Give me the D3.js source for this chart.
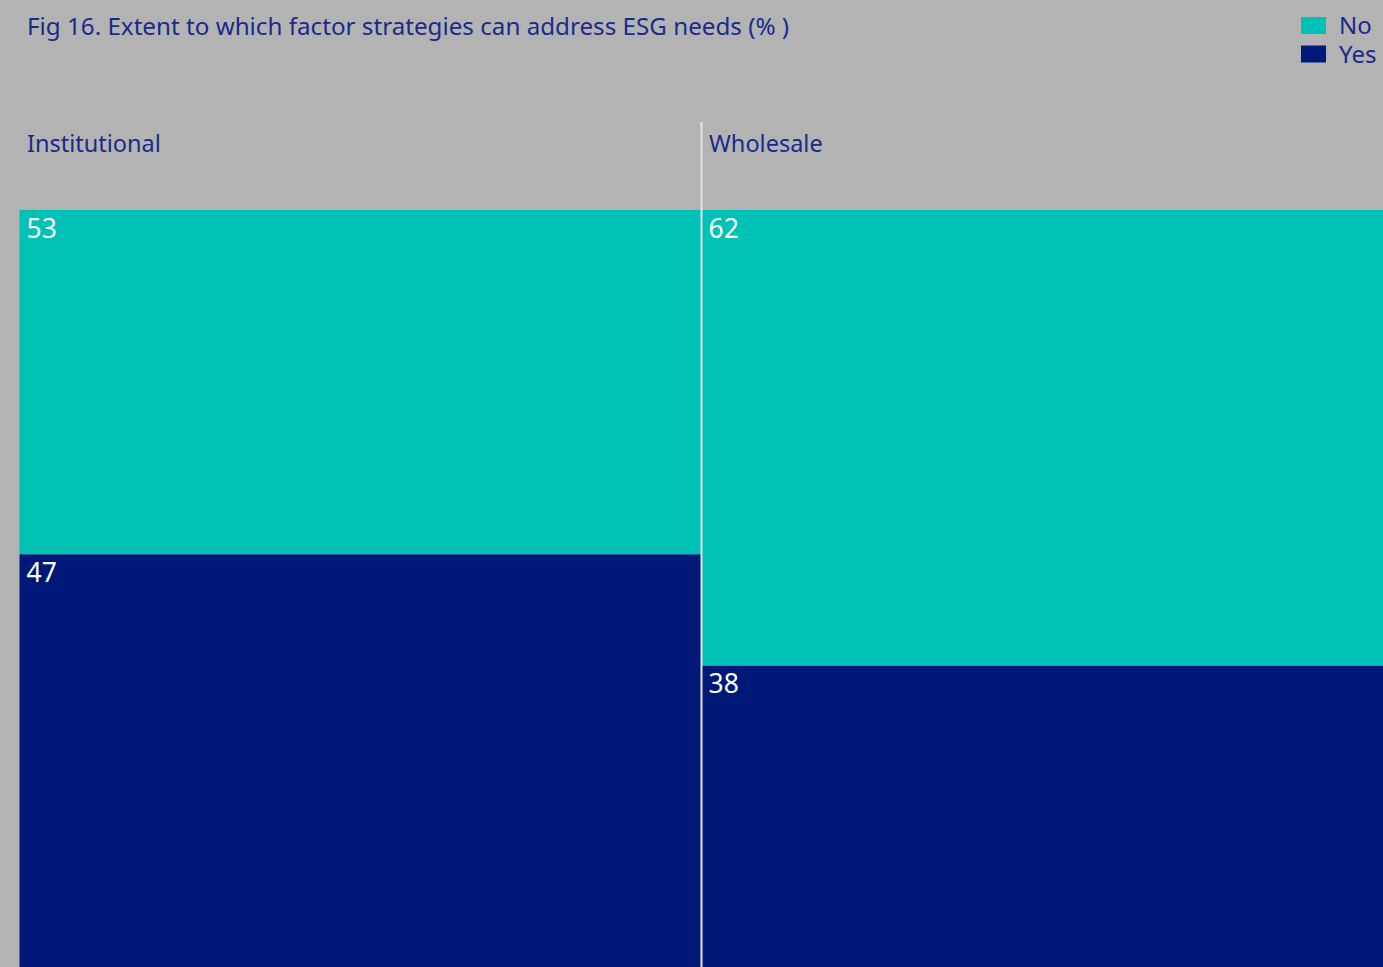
<!DOCTYPE html>
<html>
<head>
<meta charset="utf-8">
<script src="https://cdn.jsdelivr.net/npm/d3@7"></script>
<style>
  html, body { margin: 0; padding: 0; background: #b3b3b3; }
  svg { display: block; }
  .title, .panel, .legend-label { fill: #1a2a8c; font-family: "Noto Sans", sans-serif; }
  .value { fill: #ffffff; font-family: "Noto Sans", sans-serif; }
</style>
</head>
<body>
<svg id="chart"></svg>
<script>
  const width = 1383, height = 967;

  // data
  const panels = ['Institutional', 'Wholesale'];
  const answers = ['No', 'Yes'];
  const noValues = [53, 62];
  const yesValues = [47, 38];
  const titleText = 'Fig 16. Extent to which factor strategies can address ESG needs (% )';

  const colors = { No: '#00c1b6', Yes: '#001978' };

  const svg = d3.select('#chart')
    .attr('width', width)
    .attr('height', height)
    .attr('viewBox', `0 0 ${width} ${height}`);

  svg.append('rect').attr('width', width).attr('height', height).attr('fill', '#b3b3b3');

  const x = d3.scaleBand().domain(panels).range([19.5, 1383.5]).paddingInner(0);

  // share measured down from the top of the bar (picture is cropped at the bottom)
  const y = d3.scalePow().exponent(1.787).domain([0, 100]).range([210, 1281]);

  const rows = panels.map((p, i) => ({ panel: p, No: noValues[i], Yes: yesValues[i] }));

  // No sits on top, Yes below it
  const segs = [];
  rows.forEach(r => {
    let acc = 0;
    answers.forEach(a => {
      segs.push({ panel: r.panel, key: a, value: r[a], y0: acc, y1: acc + r[a] });
      acc += r[a];
    });
  });

  const g = svg.append('g');

  g.selectAll('rect.seg').data(segs).join('rect')
    .attr('class', 'seg')
    .attr('x', d => x(d.panel))
    .attr('width', x.bandwidth())
    .attr('y', d => y(d.y0))
    .attr('height', d => y(d.y1) - y(d.y0))
    .attr('fill', d => colors[d.key]);

  g.selectAll('text.value').data(segs).join('text')
    .attr('class', 'value')
    .attr('x', d => x(d.panel) + 7)
    .attr('y', d => y(d.y0) + 27.5)
    .attr('font-size', 26.5)
    .text(d => d.value);

  // panel labels
  g.selectAll('text.panel').data(panels).join('text')
    .attr('class', 'panel')
    .attr('x', d => x(d) + 7.5)
    .attr('y', 152)
    .attr('font-size', 23.5)
    .text(d => d);

  // divider between panels
  g.append('line')
    .attr('x1', x('Wholesale')).attr('x2', x('Wholesale'))
    .attr('y1', 122).attr('y2', height)
    .attr('stroke', '#e6e6e6')
    .attr('stroke-width', 2);

  // title
  svg.append('text')
    .attr('class', 'title')
    .attr('x', 27)
    .attr('y', 35)
    .attr('font-size', 24.2)
    .text(titleText);

  // legend
  const legend = svg.append('g').attr('transform', 'translate(1301,17)');
  const li = legend.selectAll('g').data(answers).join('g')
    .attr('transform', (d, i) => `translate(0,${i * 28.5})`);
  li.append('rect').attr('width', 25).attr('height', 17).attr('fill', d => colors[d]);
  li.append('text')
    .attr('class', 'legend-label')
    .attr('x', 38).attr('y', 17)
    .attr('font-size', 24)
    .text(d => d);
</script>
</body>
</html>
